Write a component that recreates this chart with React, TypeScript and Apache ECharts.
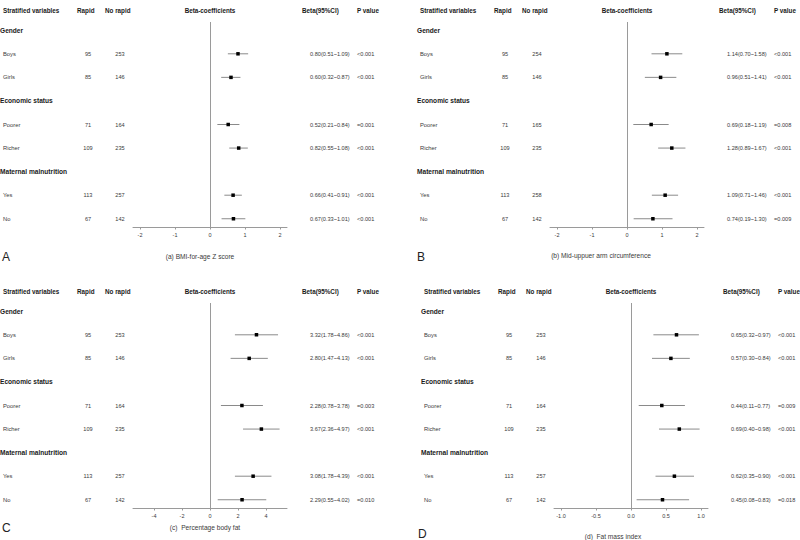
import React, { useEffect, useRef } from "react";
import * as echarts from "echarts";

// ---------- data ----------
const groups = ["Gender", "Economic status", "Maternal malnutrition"];
const subgroups = [["Boys", "Girls"], ["Poorer", "Richer"], ["Yes", "No"]];
const headers = ["Stratified variables", "Rapid", "No rapid", "Beta-coefficients", "Beta(95%CI)", "P value"];

const rapidA = [95, 85, 71, 109, 113, 67];
const noRapidA = [253, 146, 164, 235, 257, 142];
const betaA = [0.8, 0.6, 0.52, 0.82, 0.66, 0.67];
const lowA = [0.51, 0.32, 0.21, 0.55, 0.41, 0.33];
const highA = [1.09, 0.87, 0.84, 1.08, 0.91, 1.01];
const pA = ["<0.001", "<0.001", "=0.001", "<0.001", "<0.001", "<0.001"];

const rapidB = [95, 85, 71, 109, 113, 67];
const noRapidB = [254, 146, 165, 235, 258, 142];
const betaB = [1.14, 0.96, 0.69, 1.28, 1.09, 0.74];
const lowB = [0.7, 0.51, 0.18, 0.89, 0.71, 0.19];
const highB = [1.58, 1.41, 1.19, 1.67, 1.46, 1.3];
const pB = ["<0.001", "<0.001", "=0.008", "<0.001", "<0.001", "=0.009"];

const rapidC = [95, 85, 71, 109, 113, 67];
const noRapidC = [253, 146, 164, 235, 257, 142];
const betaC = [3.32, 2.8, 2.28, 3.67, 3.08, 2.29];
const lowC = [1.78, 1.47, 0.78, 2.36, 1.78, 0.55];
const highC = [4.86, 4.13, 3.78, 4.97, 4.39, 4.02];
const pC = ["<0.001", "<0.001", "=0.003", "<0.001", "<0.001", "=0.010"];

const rapidD = [95, 85, 71, 109, 113, 67];
const noRapidD = [253, 146, 164, 235, 257, 142];
const betaD = [0.65, 0.57, 0.44, 0.69, 0.62, 0.45];
const lowD = [0.32, 0.3, 0.11, 0.4, 0.35, 0.08];
const highD = [0.97, 0.84, 0.77, 0.98, 0.9, 0.83];
const pD = ["<0.001", "<0.001", "=0.009", "<0.001", "<0.001", "=0.018"];

const ticksA = [-2, -1, 0, 1, 2];
const ticksB = [-2, -1, 0, 1, 2];
const ticksC = [-4, -2, 0, 2, 4];
const ticksD = [-1.0, -0.5, 0.0, 0.5, 1.0];

const titles = ["(a) BMI-for-age Z score", "(b) Mid-uppuer arm circumference", "(c)  Percentage body fat", "(d)  Fat mass index"];
const letters = ["A", "B", "C", "D"];

// ---------- panels built from the arrays ----------
const panels = [
  { rapid: rapidA, noRapid: noRapidA, beta: betaA, low: lowA, high: highA, p: pA, ticks: ticksA, range: 2.2, dec: 0 },
  { rapid: rapidB, noRapid: noRapidB, beta: betaB, low: lowB, high: highB, p: pB, ticks: ticksB, range: 2.2, dec: 0 },
  { rapid: rapidC, noRapid: noRapidC, beta: betaC, low: lowC, high: highC, p: pC, ticks: ticksC, range: 5.5, dec: 0 },
  { rapid: rapidD, noRapid: noRapidD, beta: betaD, low: lowD, high: highD, p: pD, ticks: ticksD, range: 1.1, dec: 1 },
];

// layout (pixels)
const layouts = [
  { dx: 0, dy: 0, letterX: 2, letterY: 257, titleX: 200, titleY: 256 },
  { dx: 417, dy: 0, letterX: 417, letterY: 257, titleX: 601, titleY: 255 },
  { dx: 0, dy: 281, letterX: 2, letterY: 528, titleX: 205, titleY: 527 },
  { dx: 421, dy: 281, letterX: 418, letterY: 534, titleX: 613, titleY: 536 },
];

const FONT = '"Liberation Sans", Arial, Helvetica, sans-serif';
const TEXT_DARK = "#1a1a1a";
const TEXT = "#3a3a3a";
const GRAY = "#9a9a9a";

type Row = { label: string; group: boolean; sub: number };
const rows: Row[] = [];
{
  let s = 0;
  groups.forEach((g, gi) => {
    rows.push({ label: g, group: true, sub: -1 });
    subgroups[gi].forEach((lab) => rows.push({ label: lab, group: false, sub: s++ }));
  });
}

function txt(x: number, y: number, text: string, size: number, opts: any = {}) {
  return {
    type: "text",
    x,
    y,
    silent: true,
    style: {
      text,
      fontSize: size,
      fontFamily: FONT,
      fontWeight: opts.bold ? "bold" : "normal",
      fill: opts.fill || TEXT,
      align: opts.align || "left",
      verticalAlign: "middle",
    },
  };
}

function buildOption() {
  const grid: any[] = [];
  const xAxis: any[] = [];
  const yAxis: any[] = [];
  const series: any[] = [];
  const graphic: any[] = [];

  panels.forEach((P, k) => {
    const L = layouts[k];
    grid.push({ left: L.dx + 133, top: L.dy + 22, width: 154, height: 205, containLabel: false });
    xAxis.push({
      gridIndex: k,
      type: "value",
      min: -P.range,
      max: P.range,
      position: "bottom",
      axisLine: { show: true, onZero: false, lineStyle: { color: GRAY, width: 1 } },
      axisTick: { show: true, customValues: P.ticks, length: 2.5, lineStyle: { color: GRAY } },
      axisLabel: {
        show: true,
        customValues: P.ticks,
        fontSize: 5.5,
        fontFamily: FONT,
        color: TEXT,
        margin: 4.5,
        formatter: (v: number) => v.toFixed(P.dec),
      },
      splitLine: { show: false },
    });
    yAxis.push({ gridIndex: k, type: "value", inverse: true, min: -0.35, max: 8.35, show: false });

    // forest marks
    const forestData = rows
      .map((r, ri) => (r.group ? null : [ri, P.beta[r.sub], P.low[r.sub], P.high[r.sub]]))
      .filter((d) => d !== null);
    series.push({
      type: "custom",
      xAxisIndex: k,
      yAxisIndex: k,
      silent: true,
      data: forestData,
      encode: { x: [1, 2, 3], y: 0 },
      renderItem: (params: any, api: any) => {
        const ri = api.value(0);
        const pL = api.coord([api.value(2), ri]);
        const pH = api.coord([api.value(3), ri]);
        const pB = api.coord([api.value(1), ri]);
        return {
          type: "group",
          children: [
            { type: "line", shape: { x1: pL[0], y1: pL[1], x2: pH[0], y2: pH[1] }, style: { stroke: "#8a8a8a", lineWidth: 1 } },
            { type: "rect", shape: { x: pB[0] - 1.75, y: pB[1] - 1.75, width: 3.5, height: 3.5 }, style: { fill: "#000" } },
          ],
        };
      },
      markLine: {
        silent: true,
        symbol: "none",
        label: { show: false },
        lineStyle: { color: GRAY, type: "solid", width: 1 },
        data: [{ xAxis: 0 }],
      },
    });

    // table text
    series.push({
      type: "custom",
      xAxisIndex: k,
      yAxisIndex: k,
      silent: true,
      clip: false,
      data: rows.map((r, ri) => [0, ri]),
      encode: { x: 0, y: 1 },
      renderItem: (params: any, api: any) => {
        const ri = api.value(1);
        const y = api.coord([0, ri])[1];
        const r = rows[params.dataIndex];
        const ch: any[] = [];
        if (r.group) {
          ch.push(txt(L.dx + 0, y, r.label, 6.6, { bold: true, fill: TEXT_DARK }));
        } else {
          const i = r.sub;
          const ci = `${P.beta[i].toFixed(2)}(${P.low[i].toFixed(2)}~${P.high[i].toFixed(2)})`;
          ch.push(txt(L.dx + 3, y, r.label, 5.8));
          ch.push(txt(L.dx + 88, y, String(P.rapid[i]), 5.6, { align: "center" }));
          ch.push(txt(L.dx + 120, y, String(P.noRapid[i]), 5.6, { align: "center" }));
          ch.push(txt(L.dx + 310, y, ci, 5.6));
          ch.push(txt(L.dx + 357, y, P.p[i], 5.6));
        }
        return { type: "group", children: ch };
      },
    });

    // headers
    const hy = L.dy + 10;
    graphic.push(txt(L.dx + 3, hy, headers[0], 6.3, { bold: true, fill: TEXT_DARK }));
    graphic.push(txt(L.dx + 77, hy, headers[1], 6.3, { bold: true, fill: TEXT_DARK }));
    graphic.push(txt(L.dx + 105, hy, headers[2], 6.3, { bold: true, fill: TEXT_DARK }));
    graphic.push(txt(L.dx + 210, hy, headers[3], 6.3, { bold: true, fill: TEXT_DARK, align: "center" }));
    graphic.push(txt(L.dx + 302, hy, headers[4], 6.3, { bold: true, fill: TEXT_DARK }));
    graphic.push(txt(L.dx + 357, hy, headers[5], 6.3, { bold: true, fill: TEXT_DARK }));
    // letter and subtitle
    graphic.push(txt(L.letterX, L.letterY, letters[k], 12, { fill: "#222" }));
    graphic.push(txt(L.titleX, L.titleY, titles[k], 6.6, { align: "center", fill: TEXT }));
  });

  return {
    animation: false,
    backgroundColor: "#ffffff",
    grid,
    xAxis,
    yAxis,
    series,
    graphic,
  };
}

export default function App() {
  const ref = useRef<HTMLDivElement>(null);
  useEffect(() => {
    const chart = echarts.init(ref.current!, null, { renderer: "svg" });
    chart.setOption(buildOption() as any);
    return () => chart.dispose();
  }, []);
  return (
    <div
      ref={ref}
      style={{ position: "absolute", left: 0, top: 0, width: 800, height: 540, background: "#fff" }}
    />
  );
}
